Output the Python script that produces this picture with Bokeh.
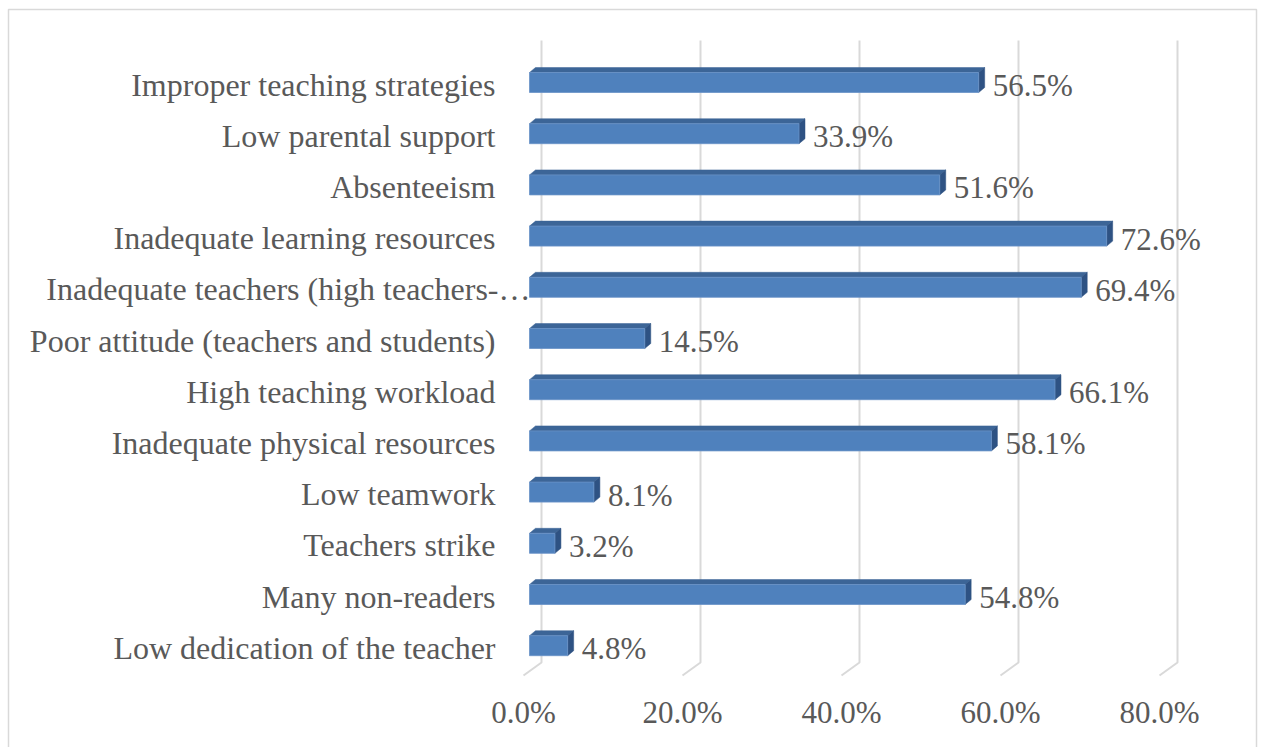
from bokeh.plotting import figure
from bokeh.models import Range1d, ColumnDataSource
from bokeh.core.properties import value
from bokeh.embed import file_html
from bokeh.resources import INLINE

categories = [
    "Improper teaching strategies",
    "Low parental support",
    "Absenteeism",
    "Inadequate learning resources",
    "Inadequate teachers (high teachers-\u2026",
    "Poor attitude (teachers and students)",
    "High teaching workload",
    "Inadequate physical resources",
    "Low teamwork",
    "Teachers strike",
    "Many non-readers",
    "Low dedication of the teacher",
]
values = [56.5, 33.9, 51.6, 72.6, 69.4, 14.5, 66.1, 58.1, 8.1, 3.2, 54.8, 4.8]
ticks = [0, 20, 40, 60, 80]
tick_labels = ["0.0%", "20.0%", "40.0%", "60.0%", "80.0%"]

W, H = 1262, 747
PX_X = 7.95      # px per percent
PX_Y = 51.2      # px per row
X0 = 523         # pixel of 0% on front floor
Y0 = 82          # pixel of first row centre

def dx(px):
    return px / PX_X

def dy(px):
    return px / PX_Y

def xp(px):
    return (px - X0) / PX_X

def yp(px):
    return (Y0 - px) / PX_Y

p = figure(width=W, height=H, output_backend="svg", toolbar_location=None,
           x_axis_location=None, y_axis_location=None,
           x_range=Range1d(xp(0), xp(W)), y_range=Range1d(yp(H), yp(0)),
           min_border=0, outline_line_color=None)
p.grid.visible = False
p.background_fill_color = "white"
p.border_fill_color = "white"

# chart border
p.quad(left=[xp(8)], right=[xp(1256)], top=[yp(9)], bottom=[yp(760)],
       fill_color=None, line_color="#D9D9D9", line_width=1.5)

# gridlines on back wall with floor kink
back = dx(18)
gx, gy = [], []
for t in ticks:
    gx.append([t + back, t + back, t])
    gy.append([yp(40), yp(662), yp(675)])
p.multi_line(xs=gx, ys=gy, line_color="#D9D9D9", line_width=2)

# bars (3D look)
off = dx(6)
ddx, ddy = dx(6), dy(5)
h = dy(20)
rows = list(range(len(categories)))
yc = [-i for i in rows]
top_x, top_y, side_x, side_y = [], [], [], []
for v, y in zip(values, yc):
    x0, x1 = off, v + off
    yt, yb = y + h / 2, y - h / 2
    top_x.append([x0, x1, x1 + ddx, x0 + ddx])
    top_y.append([yt, yt, yt + ddy, yt + ddy])
    side_x.append([x1, x1, x1 + ddx, x1 + ddx])
    side_y.append([yb, yt, yt + ddy, yb + ddy])

p.patches(xs=top_x, ys=top_y, fill_color="#3C6597", line_color="#3C6597", line_width=0.5)
p.patches(xs=side_x, ys=side_y, fill_color="#2E5283", line_color="#2E5283", line_width=0.5)
p.hbar(y=yc, left=off, right=[v + off for v in values], height=h,
       fill_color="#4F81BD", line_color="#6A93C8", line_width=0.8)

font = value("Liberation Serif")
txt = "#595959"

# truncated labels (ending in an ellipsis) overflow towards the bars
cat_x = [xp(530) if c.endswith("\u2026") else xp(495) for c in categories]

src = ColumnDataSource(dict(y=yc, cat=categories, cx=cat_x,
                            lab=[f"{v:.1f}%" for v in values],
                            lx=[v + off + dx(14) for v in values]))
p.text(x="cx", y="y", text="cat", source=src, text_align="right",
       text_baseline="middle", text_font=font, text_font_size="32px", text_color=txt,
       y_offset=2)
p.text(x="lx", y="y", text="lab", source=src, text_align="left",
       text_baseline="middle", text_font=font, text_font_size="31px", text_color=txt,
       y_offset=3)

p.text(x=ticks, y=[yp(712)] * len(ticks), text=tick_labels, text_align="center",
       text_baseline="middle", text_font=font, text_font_size="31px", text_color=txt)

open("out.html", "w").write(file_html(p, INLINE))
